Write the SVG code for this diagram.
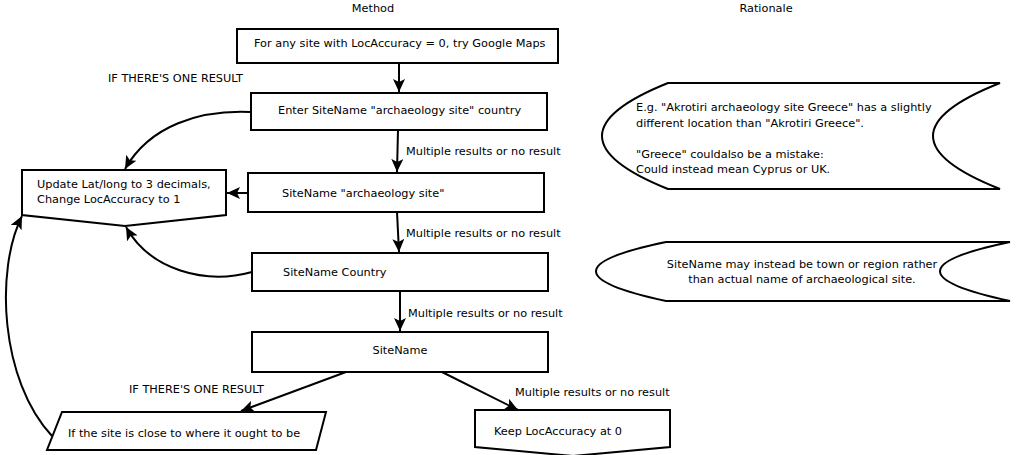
<svg xmlns="http://www.w3.org/2000/svg" width="1017" height="455" viewBox="0 0 1017 455">
<defs>
<style>
text{font-family:"DejaVu Sans",Verdana,sans-serif;font-size:11.3px;fill:#000}
.c{text-anchor:middle}
.n{fill:#fff;stroke:#000;stroke-width:2}
.e{fill:none;stroke:#000;stroke-width:2;marker-end:url(#ah)}
</style>
<marker id="ah" markerUnits="userSpaceOnUse" markerWidth="14" markerHeight="12" refX="13" refY="6" orient="auto">
<path d="M0,0 L13,6 L0,12 L3,6 z" fill="#000"/>
</marker>
</defs>
<rect width="1017" height="455" fill="#fff"/>
<text class="c" x="373" y="12">Method</text>
<text class="c" x="766" y="12">Rationale</text>
<g id="connectors">
<path class="e" d="M399,63 L399,92"/>
<path class="e" d="M398,130 L397,172"/>
<path class="e" d="M397,212 L399,252"/>
<path class="e" d="M400,291 L400,331"/>
<path class="e" d="M346,372 L241,411"/>
<path class="e" d="M442,372 L518,410"/>
<path class="e" d="M250,112 C200,110 150,125 125,169"/>
<path class="e" d="M248,193 L227,193"/>
<path class="e" d="M252,272 C205,285 150,270 126,227"/>
<path class="e" d="M52,436 C0,380 -5,270 22,216"/>
<text x="108" y="82">IF THERE'S ONE RESULT</text>
<text x="406" y="155">Multiple results or no result</text>
<text x="406" y="237">Multiple results or no result</text>
<text x="408" y="317">Multiple results or no result</text>
<text x="129" y="393">IF THERE'S ONE RESULT</text>
<text x="515" y="396">Multiple results or no result</text>
</g>
<g id="start">
<rect class="n" x="237" y="29" width="321" height="34"/>
<text x="254" y="47">For any site with LocAccuracy = 0, try Google Maps</text>
</g>
<g id="step1">
<rect class="n" x="251" y="93" width="296" height="37"/>
<text x="278" y="114">Enter SiteName "archaeology site" country</text>
</g>
<g id="step2">
<rect class="n" x="248" y="173" width="296" height="39"/>
<text x="282" y="197">SiteName "archaeology site"</text>
</g>
<g id="step3">
<rect class="n" x="252" y="253" width="296" height="38"/>
<text x="283" y="276">SiteName Country</text>
</g>
<g id="step4">
<rect class="n" x="252" y="332" width="296" height="40"/>
<text class="c" x="400" y="354">SiteName</text>
</g>
<g id="update">
<path class="n" d="M22,170 L226,170 L226,215 L125,226 L22,215 z"/>
<text x="37" y="188">Update Lat/long to 3 decimals,</text>
<text x="37" y="203">Change LocAccuracy to 1</text>
</g>
<g id="check">
<path class="n" d="M62,412 L326,412 L316,450 L47,450 z"/>
<text x="68" y="437">If the site is close to where it ought to be</text>
</g>
<g id="keep">
<path class="n" d="M475,410 L670,410 L670,447 L573,456 L475,447 z"/>
<text x="494" y="435">Keep LocAccuracy at 0</text>
</g>
<g id="rationale1">
<path class="n" d="M668,83 L1000,83 Q866,136 1000,189 L668,189 Q536,136 668,83 z"/>
<text x="636" y="111">E.g. "Akrotiri archaeology site Greece" has a slightly</text>
<text x="636" y="127">different location than "Akrotiri Greece".</text>
<text x="636" y="158">"Greece" couldalso be a mistake:</text>
<text x="636" y="173">Could instead mean Cyprus or UK.</text>
</g>
<g id="rationale2">
<path class="n" d="M666,242 L1010,242 Q870,271 1010,301 L666,301 Q526,271 666,242 z"/>
<text class="c" x="802" y="268">SiteName may instead be town or region rather</text>
<text class="c" x="802" y="283">than actual name of archaeological site.</text>
</g>
</svg>
